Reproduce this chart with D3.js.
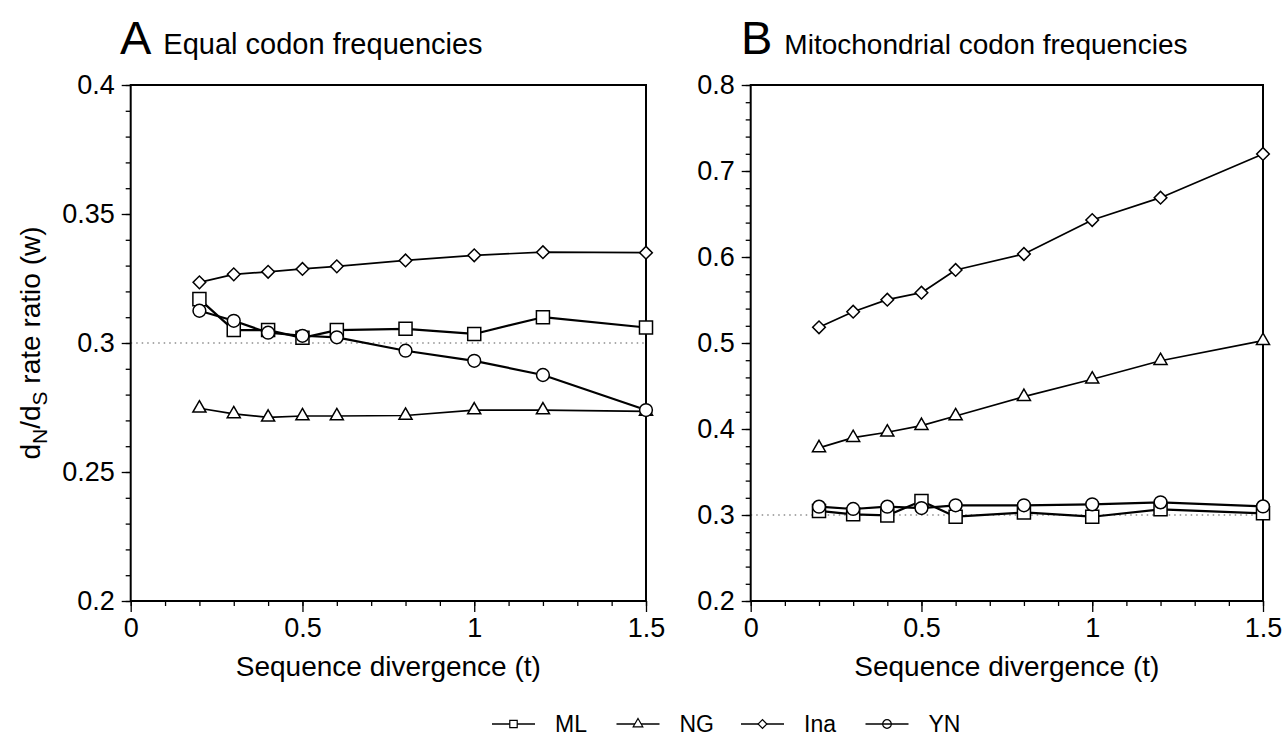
<!DOCTYPE html>
<html>
<head>
<meta charset="utf-8">
<script src="https://cdn.jsdelivr.net/npm/d3@7"></script>
<style>
  html, body { margin: 0; padding: 0; background: #fff; }
  svg { display: block; }
  text { font-family: "Liberation Sans", Arial, Helvetica, sans-serif; fill: #000; }
</style>
</head>
<body>
<svg id="chart" width="1286" height="754"></svg>
<script>
// ---------- data ----------
const divergence = [0.2, 0.3, 0.4, 0.5, 0.6, 0.8, 1.0, 1.2, 1.5];
const seriesNames = ["ML", "NG", "Ina", "YN"];

// Panel A: equal codon frequencies
const equalML  = [0.317, 0.305, 0.305, 0.302, 0.305, 0.3055, 0.3035, 0.310, 0.306];
const equalNG  = [0.2747, 0.2725, 0.2712, 0.2717, 0.2717, 0.2719, 0.274, 0.274, 0.2735];
const equalIna = [0.3235, 0.3266, 0.3276, 0.3287, 0.3297, 0.332, 0.334, 0.3352, 0.335];
const equalYN  = [0.3125, 0.3086, 0.304, 0.3028, 0.3022, 0.297, 0.2931, 0.2876, 0.274];

// Panel B: mitochondrial codon frequencies
const mitoML  = [0.3047, 0.3008, 0.2995, 0.3163, 0.298, 0.303, 0.298, 0.3066, 0.302];
const mitoNG  = [0.378, 0.3899, 0.3962, 0.4039, 0.4151, 0.4376, 0.4578, 0.4794, 0.5027];
const mitoIna = [0.5182, 0.5364, 0.5504, 0.5585, 0.5849, 0.6035, 0.643, 0.669, 0.7198];
const mitoYN  = [0.3097, 0.307, 0.3097, 0.3081, 0.3113, 0.3113, 0.3124, 0.3147, 0.310];

const xTickValues = [0, 0.5, 1, 1.5];
const xTickLabels = ["0", "0.5", "1", "1.5"];
const yTicksA = [0.2, 0.25, 0.3, 0.35, 0.4];
const yTickLabelsA = ["0.2", "0.25", "0.3", "0.35", "0.4"];
const yTicksB = [0.2, 0.3, 0.4, 0.5, 0.6, 0.7, 0.8];
const yTickLabelsB = ["0.2", "0.3", "0.4", "0.5", "0.6", "0.7", "0.8"];
const refLine = 0.3;

// ---------- layout ----------
const svg = d3.select("#chart");
svg.append("rect").attr("width", 1286).attr("height", 754).attr("fill", "#fff");

const FONT = '"Liberation Sans", Arial, Helvetica, sans-serif';

const symbolFor = {
  ML:  { type: d3.symbolSquare,   size: 170, rotate: 0 },
  NG:  { type: d3.symbolTriangle, size: 74,  rotate: 0 },
  Ina: { type: d3.symbolSquare,   size: 80,  rotate: 45 },
  YN:  { type: d3.symbolCircle,   size: 128, rotate: 0 }
};
const lineWidth = { ML: 2.2, NG: 1.7, Ina: 1.7, YN: 2.2 };

function drawPanel(cfg) {
  const g = svg.append("g");
  const x = d3.scaleLinear().domain([0, 1.5]).range([cfg.x0, cfg.x1]);
  const y = d3.scaleLinear().domain(cfg.yDomain).range([cfg.y1, cfg.y0]);

  // dotted reference line
  g.append("line")
    .attr("x1", x(0)).attr("x2", x(1.5))
    .attr("y1", y(refLine)).attr("y2", y(refLine))
    .attr("stroke", "#555").attr("stroke-width", 1.1)
    .attr("stroke-dasharray", "1.5,4");

  // x axis: major + minor ticks, outward
  const xAxis = d3.axisBottom(x).tickValues(xTickValues)
    .tickFormat((d, i) => xTickLabels[i]).tickSize(11).tickPadding(6);
  g.append("g").attr("transform", `translate(0,${cfg.y1})`).call(xAxis);
  const xMinor = d3.axisBottom(x).tickValues(d3.range(0, 1.51, 0.1)).tickFormat("").tickSize(5);
  g.append("g").attr("transform", `translate(0,${cfg.y1})`).call(xMinor);

  // y axis
  const yAxis = d3.axisLeft(y).tickValues(cfg.yTicks)
    .tickFormat((d, i) => cfg.yTickLabels[i]).tickSize(9).tickPadding(7);
  g.append("g").attr("transform", `translate(${cfg.x0},0)`).call(yAxis);
  const yMinor = d3.axisLeft(y).tickValues(cfg.yMinor).tickFormat("").tickSize(5);
  g.append("g").attr("transform", `translate(${cfg.x0},0)`).call(yMinor);

  g.selectAll(".domain").remove();
  g.selectAll(".tick line").attr("stroke", "#000").attr("stroke-width", 1.3);
  g.selectAll(".tick text").attr("font-family", FONT).attr("font-size", 27).attr("fill", "#000");

  // frame
  g.append("rect")
    .attr("x", cfg.x0).attr("y", cfg.y0)
    .attr("width", cfg.x1 - cfg.x0).attr("height", cfg.y1 - cfg.y0)
    .attr("fill", "none").attr("stroke", "#000").attr("stroke-width", 2);

  // series
  const line = d3.line().x(d => x(d.t)).y(d => y(d.v));
  cfg.series.forEach(s => {
    const pts = divergence.map((t, i) => ({ t, v: s.values[i] }));
    g.append("path").datum(pts)
      .attr("d", line).attr("fill", "none")
      .attr("stroke", "#000").attr("stroke-width", lineWidth[s.name])
      .attr("stroke-linejoin", "round");
  });
  cfg.series.forEach(s => {
    const sym = symbolFor[s.name];
    const pts = divergence.map((t, i) => ({ t, v: s.values[i] }));
    g.selectAll(null).data(pts).enter().append("path")
      .attr("d", d3.symbol().type(sym.type).size(sym.size))
      .attr("transform", d => `translate(${x(d.t)},${y(d.v)}) rotate(${sym.rotate})`)
      .attr("fill", "#fff").attr("stroke", "#000").attr("stroke-width", 1.5);
  });

  // x-axis title
  g.append("text")
    .attr("x", (cfg.x0 + cfg.x1) / 2).attr("y", 676)
    .attr("text-anchor", "middle").attr("font-size", 28)
    .text("Sequence divergence (t)");

  // panel title
  const tt = g.append("text").attr("x", cfg.letterX).attr("y", 54);
  tt.append("tspan").attr("font-size", 47).text(cfg.letter);
  tt.append("tspan").attr("font-size", cfg.titleSize).attr("dx", 12).text(cfg.title);
}

drawPanel({
  x0: 130.7, x1: 646, y0: 85, y1: 601,
  yDomain: [0.2, 0.4], yTicks: yTicksA, yTickLabels: yTickLabelsA,
  yMinor: d3.range(0.2, 0.4001, 0.01),
  letter: "A", letterX: 120, title: "Equal codon frequencies", titleSize: 29,
  series: [
    { name: "ML", values: equalML },
    { name: "NG", values: equalNG },
    { name: "Ina", values: equalIna },
    { name: "YN", values: equalYN }
  ]
});

drawPanel({
  x0: 750.7, x1: 1263, y0: 85, y1: 601,
  yDomain: [0.2, 0.8], yTicks: yTicksB, yTickLabels: yTickLabelsB,
  yMinor: d3.range(0.2, 0.8001, 0.02),
  letter: "B", letterX: 741, title: "Mitochondrial codon frequencies", titleSize: 28,
  series: [
    { name: "ML", values: mitoML },
    { name: "NG", values: mitoNG },
    { name: "Ina", values: mitoIna },
    { name: "YN", values: mitoYN }
  ]
});

// y-axis title (panel A)
const yt = svg.append("text")
  .attr("transform", "translate(40,343) rotate(-90)")
  .attr("text-anchor", "middle").attr("font-size", 28);
yt.append("tspan").text("d");
yt.append("tspan").attr("font-size", 21).attr("dy", 7).text("N");
yt.append("tspan").attr("dy", -7).text("/d");
yt.append("tspan").attr("font-size", 21).attr("dy", 7).text("S");
yt.append("tspan").attr("dy", -7).text(" rate ratio (w)");

// legend
const legendSym = {
  ML:  { type: d3.symbolSquare,   size: 55, rotate: 0,  fill: "#fff" },
  NG:  { type: d3.symbolTriangle, size: 40, rotate: 0,  fill: "#fff" },
  Ina: { type: d3.symbolSquare,   size: 38, rotate: 45, fill: "#fff" },
  YN:  { type: d3.symbolCircle,   size: 58, rotate: 0,  fill: "none" }
};
const legend = svg.append("g");
seriesNames.forEach((name, i) => {
  const x0 = 492 + i * 124.5;
  const cy = 724;
  legend.append("line").attr("x1", x0).attr("x2", x0 + 43)
    .attr("y1", cy).attr("y2", cy).attr("stroke", "#000").attr("stroke-width", 1.6);
  const s = legendSym[name];
  legend.append("path")
    .attr("d", d3.symbol().type(s.type).size(s.size))
    .attr("transform", `translate(${x0 + 21.5},${cy}) rotate(${s.rotate})`)
    .attr("fill", s.fill).attr("stroke", "#000").attr("stroke-width", 1.2);
  legend.append("text").attr("x", x0 + 63).attr("y", cy + 8)
    .attr("font-size", 23).text(name);
});
</script>
</body>
</html>
